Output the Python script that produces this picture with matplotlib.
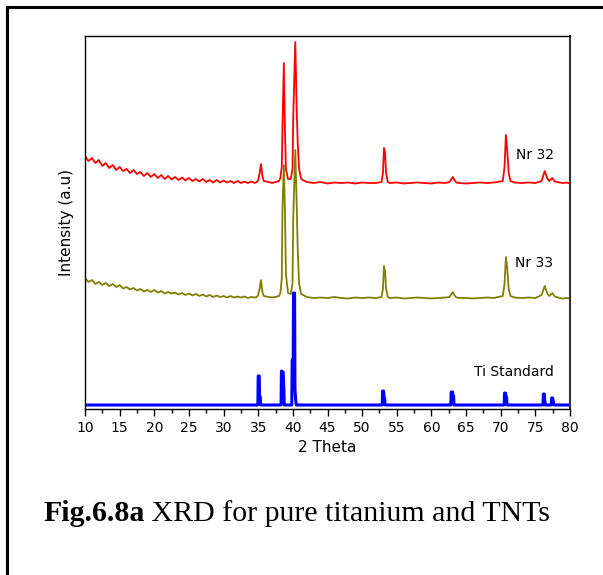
import matplotlib
matplotlib.use("Agg")
import matplotlib.pyplot as plt
from matplotlib.lines import Line2D

# 2 theta grid shared by the two TNT scans
scan_x = [10.0, 10.5, 11.0, 11.5, 12.0, 12.5, 13.0, 13.5, 14.0, 14.5,
          15.0, 15.5, 16.0, 16.5, 17.0, 17.5, 18.0, 18.5, 19.0, 19.5,
          20.0, 20.5, 21.0, 21.5, 22.0, 22.5, 23.0, 23.5, 24.0, 24.5,
          25.0, 25.5, 26.0, 26.5, 27.0, 27.5, 28.0, 28.5, 29.0, 29.5,
          30.0, 30.5, 31.0, 31.5, 32.0, 32.5, 33.0, 33.5, 34.0, 34.5,
          34.8, 35.0, 35.2, 35.4, 35.6, 35.8,
          36.5, 37.0, 37.5, 38.0,
          38.2, 38.4, 38.5, 38.7, 38.85, 39.0,
          39.3, 39.7, 39.95,
          40.05, 40.35, 40.55, 40.7, 40.9, 41.2,
          42, 43, 44, 45, 46, 47, 48, 49, 50, 51, 52,
          52.8, 53.0, 53.15, 53.3, 53.45, 53.7,
          54, 55, 56, 57, 58, 59, 60, 61, 62,
          62.6, 62.9, 63.1, 63.3, 63.6,
          64, 65, 66, 67, 68, 69,
          70.3, 70.55, 70.75, 70.95, 71.15, 71.4,
          72, 73, 74, 75,
          75.9, 76.35, 76.7, 77.0, 77.45, 77.8,
          78.5, 79, 79.5, 80]

nr32 = [253, 248, 251, 246, 249, 243, 246, 241, 244, 239,
        242, 238, 240, 236, 239, 235, 237, 233, 236, 232,
        235, 231, 234, 230, 233, 229.5, 232, 229, 231.5, 228.5,
        231, 228, 230, 227.5, 230, 227, 229, 226.5, 229, 226.5,
        228.5, 226.5, 228, 226, 228, 226, 227.5, 226, 227.5, 226,
        227, 229, 236, 245, 233, 228,
        227, 226, 227, 228,
        231, 242, 281, 346, 282, 240,
        230, 230, 240,
        291, 367, 300, 266, 240, 230,
        227, 226, 227, 225.5, 226.5, 226, 226.5, 225.5, 226.5, 226, 226,
        227, 236, 261, 257, 236, 227,
        226, 226.5, 225.5, 226, 226.5, 226, 225.5, 226.5, 226,
        227, 230, 232, 229, 226.5,
        226, 225.5, 226, 226.5, 226, 226.5,
        228, 242, 274, 258, 236, 228,
        226.5, 226, 226.5, 226,
        228, 238, 231, 228, 231, 227.5,
        226.5, 226, 226.5, 225.5]

nr33 = [131, 127, 129, 125, 127, 124, 126, 123, 125, 122,
        124, 120.5, 122, 119.5, 121, 118.5, 120, 117.5, 119, 117,
        119, 116.5, 118, 115.5, 117, 115.5, 116.5, 114.5, 116, 114,
        115.5, 113.5, 115, 113, 114.5, 112.5, 114, 112, 113.5, 112,
        113, 111.5, 113, 111.5, 112.5, 111.5, 112.5, 111, 112, 111.5,
        112, 114, 120, 129, 117, 113,
        112, 111.5, 112, 113,
        116, 130, 200, 244, 200, 135,
        116, 115, 125,
        190, 259, 205, 160, 125, 115,
        112, 111, 111.5, 111, 112, 111, 110.5, 111.5, 111, 111.5, 111,
        112, 120, 143, 138, 120, 112,
        111, 111.5, 110.5, 111, 111.5, 111, 110.5, 111, 111.5,
        112, 115, 117, 114, 111.5,
        111, 111, 110.5, 111, 111.5, 111,
        113, 125, 152, 140, 120, 113,
        111.5, 111, 111.5, 111,
        114, 123, 116, 113, 116, 112.5,
        111, 110.5, 111, 110.5]

# Ti standard reference pattern
ti_x = [10, 34.95, 35.0, 35.15, 35.2, 35.3, 35.35,
        38.3, 38.35, 38.6, 38.7, 38.75,
        39.85, 39.9, 40.05, 40.1, 40.25, 40.3, 40.4, 40.5,
        52.9, 52.95, 53.1, 53.15, 53.25, 53.3,
        62.8, 62.85, 63.05, 63.1, 63.2, 63.25,
        70.5, 70.55, 70.7, 70.75, 70.85, 70.9,
        76.1, 76.15, 76.3, 76.35, 76.45,
        77.3, 77.35, 77.5, 77.6, 77.7, 80]
ti_y = [4, 4, 33, 33, 12, 12, 4,
        4, 38, 37, 20, 4,
        4, 49, 49, 116, 116, 20, 10, 4,
        4, 18, 18, 11, 11, 4,
        4, 17, 17, 13, 13, 4,
        4, 16, 16, 12, 12, 4,
        4, 15, 15, 9, 4,
        4, 11, 11, 7, 4, 4]

labels = ["Nr 32", "Nr 33", "Ti Standard"]

fig = plt.figure(figsize=(6.03, 5.75), dpi=100)
ax = fig.add_axes([85 / 603, 1 - 409 / 575, 485 / 603, 373 / 575])

ax.plot(scan_x, nr32, color="#ff0000", lw=1.3)
ax.plot(scan_x, nr33, color="#808000", lw=1.3)
ax.plot(ti_x, ti_y, color="#0000ff", lw=2.2)

ax.text(72.2, 254, labels[0], fontsize=10, va="center")
ax.text(72.0, 146, labels[1], fontsize=10, va="center")
ax.text(66.2, 37, labels[2], fontsize=10, va="center")

ax.set_xlim(10, 80)
ax.set_ylim(0, 373)
ax.set_xticks(range(10, 81, 5))
ax.set_xticks([x + 2.5 for x in range(10, 80, 5)], minor=True)
ax.set_yticks([])
ax.tick_params(axis="x", which="major", direction="out", length=5, width=1, labelsize=10, pad=4)
ax.tick_params(axis="x", which="minor", direction="out", length=3, width=1)
for s in ax.spines.values():
    s.set_linewidth(1.0)
ax.spines["right"].set_linewidth(1.5)
ax.spines["right"].set_color("#333333")
ax.set_xlabel("2 Theta", fontsize=11, labelpad=3)
ax.set_ylabel("Intensity (a.u)", fontsize=11, labelpad=8)

# page frame (left and top edge only)
fig.add_artist(Line2D([7 / 603, 7 / 603], [0, 1 - 7 / 575], transform=fig.transFigure, color="black", lw=2.2))
fig.add_artist(Line2D([7 / 603, 1], [1 - 7 / 575, 1 - 7 / 575], transform=fig.transFigure, color="black", lw=2.2))

# caption: bold part then regular part
cap_y = 1 - 521 / 575
t1 = fig.text(43 / 603, cap_y, "Fig.6.8a", family="Liberation Serif", weight="bold", fontsize=21.5, va="baseline")
r = fig.canvas.get_renderer()
bb = t1.get_window_extent(renderer=r)
fig.text(bb.x1 / fig.bbox.width, cap_y, " XRD for pure titanium and TNTs",
         family="Liberation Serif", fontsize=21.5, va="baseline")

fig.savefig("out.png", dpi=100)
